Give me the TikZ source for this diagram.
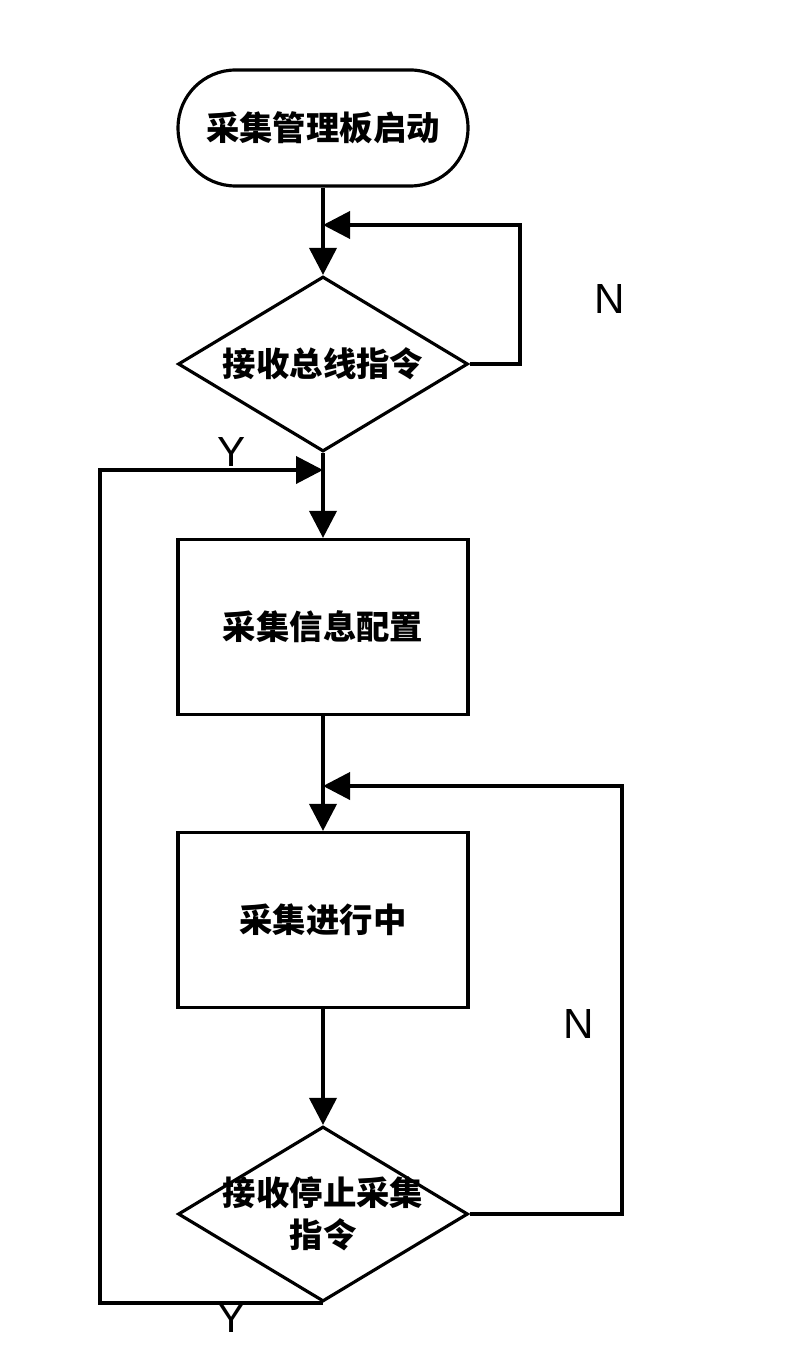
\documentclass[tikz,border=0pt]{standalone}
\usepackage{fontspec}
\setmainfont{Liberation Sans}
\newfontfamily\cjk{Noto Sans CJK SC}
\usepackage{tikz}
\usetikzlibrary{positioning}
\usetikzlibrary{shapes.geometric, arrows.meta}
\def\cjkfont{\cjk\bfseries\fontsize{19}{24}\selectfont}
\tikzstyle{startstop} = [rectangle, rounded corners=1.15cm, minimum width=5.8cm, minimum height=2.32cm, draw=black, line width=1.8pt, font=\cjkfont]
\tikzstyle{process} = [rectangle, minimum width=5.8cm, minimum height=3.5cm, draw=black, line width=1.8pt, font=\cjkfont]
\tikzstyle{decision} = [diamond, aspect=1.64, minimum width=5.8cm, minimum height=3.5cm, inner sep=0pt, draw=black, line width=1.8pt, font=\cjkfont]
\tikzstyle{dtext} = [align=center, font=\cjkfont]
\tikzstyle{yn} = [font=\fontsize{24}{28}\selectfont]
\tikzstyle{line} = [line width=2.2pt]
\tikzstyle{arrow} = [line width=2.2pt, -{Triangle[length=0.54cm, width=0.54cm]}]

\begin{document}
\begin{tikzpicture}[x=0.02cm, y=-0.02cm]
      \useasboundingbox (0,0) rectangle (800,1371);
      % boxes
      \node[startstop] (start) at (323,128) {采集管理板启动};
      \node[decision] (d1) at (323,364) {接收总线指令};
      \node[process] (r1) at (323,627) {采集信息配置};
      \node[process] (r2) at (323,920) {采集进行中};
      \node[decision] (d2) at (323,1214) {};
      \node[dtext] (d2text) at (323,1214) {接收停止采集\\指令};
      % loop corners
      \coordinate (n1) at (520,225);
      \coordinate (j1) at (323,225);
      \coordinate (y1) at (100,470);
      \coordinate (j2) at (323,470);
      \coordinate (n2) at (622,786);
      \coordinate (j3) at (323,786);
      % labels
      \node[yn] (lN1) at (610,299) {N};
      \node[yn] (lY1) at (232,452) {Y};
      \node[yn] (lN2) at (579,1024) {N};
      \node[yn] (lY2) at (232,1318) {Y};
      % connectors
      \draw[arrow] (start) -- (d1);
      \draw[arrow] (d1.east) -| (n1) -- (j1);
      \draw[arrow] (d1) -- (r1);
      \draw[arrow] (d2.south) -| (y1) -- (j2);
      \draw[arrow] (r1) -- (r2);
      \draw[arrow] (d2.east) -| (n2) -- (j3);
      \draw[arrow] (r2) -- (d2);
\end{tikzpicture}
\end{document}
